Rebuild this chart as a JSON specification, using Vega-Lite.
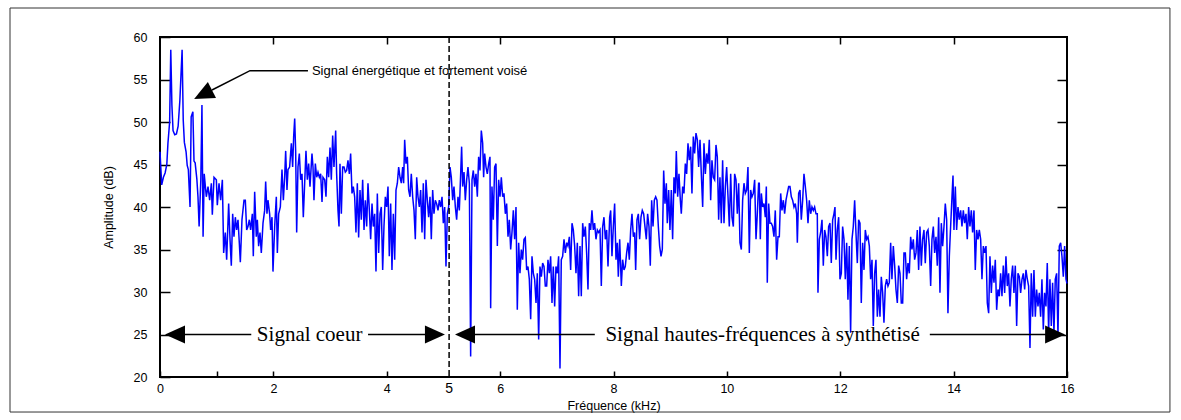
{
  "$schema": "https://vega.github.io/schema/vega-lite/v6.json",
  "width": 907,
  "height": 340,
  "autosize": {"type": "none"},
  "padding": {"left": 160, "top": 37, "right": 114, "bottom": 43},
  "background": "white",
  "config": {"view": {"stroke": "black", "strokeWidth": 2}, "font": "Liberation Sans"},
  "datasets": {
    "sig": [
      {"f":0,"a":46.5},{"f":0.03,"a":42.6},{"f":0.06,"a":43.5},{"f":0.09,"a":44.0},{"f":0.12,"a":45.0},{"f":0.14,"a":47.5},{"f":0.17,"a":50.0},{"f":0.19,"a":58.5},{"f":0.21,"a":52.0},{"f":0.23,"a":49.0},{"f":0.26,"a":48.5},{"f":0.29,"a":48.6},{"f":0.32,"a":49.5},{"f":0.35,"a":52.5},{"f":0.39,"a":58.5},{"f":0.41,"a":50.2},{"f":0.43,"a":47.6},{"f":0.46,"a":46.5},{"f":0.48,"a":44.9},{"f":0.50,"a":44.4},{"f":0.53,"a":40.0},{"f":0.55,"a":50.6},{"f":0.58,"a":51.2},{"f":0.60,"a":45.4},{"f":0.62,"a":45.2},{"f":0.65,"a":43.3},{"f":0.67,"a":41.2},{"f":0.69,"a":37.7},{"f":0.72,"a":43.2},{"f":0.74,"a":52.0},{"f":0.76,"a":36.5},{"f":0.78,"a":43.9},
      {"f":0.817,"a":41.2},{"f":0.847,"a":42.4},{"f":0.876,"a":40.8},{"f":0.906,"a":42.8},{"f":0.923,"a":39.1},{"f":0.953,"a":43.5},{"f":0.994,"a":43.2},{"f":1.011,"a":40.2},{"f":1.041,"a":42.8},{"f":1.070,"a":40.8},{"f":1.100,"a":43.2},{"f":1.123,"a":34.6},{"f":1.152,"a":37.0},{"f":1.176,"a":33.8},{"f":1.211,"a":40.4},{"f":1.235,"a":36.2},{"f":1.258,"a":33.1},{"f":1.282,"a":39.2},{"f":1.305,"a":36.5},{"f":1.329,"a":38.8},{"f":1.352,"a":37.3},{"f":1.376,"a":38.5},{"f":1.399,"a":35.8},{"f":1.417,"a":33.5},{"f":1.446,"a":38.5},{"f":1.482,"a":40.8},{"f":1.505,"a":40.8},{"f":1.529,"a":37.3},{"f":1.552,"a":37.7},{"f":1.576,"a":38.5},{"f":1.599,"a":37.3},{"f":1.629,"a":39.2},{"f":1.646,"a":34.2},{"f":1.670,"a":41.8},{"f":1.699,"a":36.5},{"f":1.717,"a":38.5},{"f":1.740,"a":35.4},{"f":1.764,"a":37.0},{"f":1.787,"a":34.6},{"f":1.817,"a":38.1},{"f":1.846,"a":39.6},{"f":1.864,"a":43.0},{"f":1.887,"a":39.2},{"f":1.905,"a":40.8},{"f":1.934,"a":39.2},{"f":1.952,"a":37.3},{"f":1.976,"a":38.8},{"f":1.993,"a":32.4},{"f":2.023,"a":37.7},{"f":2.052,"a":41.2},{"f":2.070,"a":34.6},{"f":2.093,"a":39.2},{"f":2.123,"a":40.0},{"f":2.152,"a":44.4},{"f":2.176,"a":40.8},{"f":2.199,"a":43.5},{"f":2.217,"a":46.6},{"f":2.240,"a":42.0},{"f":2.258,"a":44.4},{"f":2.287,"a":44.7},{"f":2.317,"a":47.5},{"f":2.340,"a":44.7},{"f":2.358,"a":48.3},{"f":2.376,"a":50.4},{"f":2.393,"a":46.6},{"f":2.411,"a":37.0},{"f":2.434,"a":44.7},{"f":2.458,"a":46.3},{"f":2.481,"a":43.2},{"f":2.505,"a":43.9},{"f":2.528,"a":38.8},{"f":2.552,"a":42.8},{"f":2.575,"a":46.6},{"f":2.599,"a":43.2},{"f":2.622,"a":45.1},{"f":2.646,"a":42.4},
      {"f":2.681,"a":46.3},{"f":2.699,"a":44.7},{"f":2.716,"a":40.8},{"f":2.740,"a":45.1},{"f":2.764,"a":43.5},{"f":2.787,"a":44.1},{"f":2.811,"a":43.5},{"f":2.834,"a":43.9},{"f":2.858,"a":40.6},{"f":2.875,"a":43.5},{"f":2.905,"a":43.2},{"f":2.928,"a":41.2},{"f":2.952,"a":45.9},{"f":2.975,"a":43.5},{"f":2.999,"a":47.0},{"f":3.022,"a":43.2},{"f":3.046,"a":48.4},{"f":3.069,"a":44.7},{"f":3.099,"a":49.0},{"f":3.116,"a":43.9},{"f":3.140,"a":39.6},{"f":3.158,"a":37.7},{"f":3.175,"a":45.1},{"f":3.199,"a":39.2},{"f":3.222,"a":44.7},{"f":3.246,"a":44.7},{"f":3.269,"a":44.1},{"f":3.293,"a":44.3},{"f":3.316,"a":45.5},{"f":3.340,"a":43.9},{"f":3.363,"a":46.3},{"f":3.387,"a":41.6},{"f":3.410,"a":42.4},{"f":3.434,"a":41.2},{"f":3.457,"a":37.0},{"f":3.481,"a":42.8},{"f":3.504,"a":36.4},{"f":3.528,"a":42.0},{"f":3.551,"a":38.5},{"f":3.575,"a":43.2},{"f":3.599,"a":37.3},{"f":3.622,"a":40.8},{"f":3.646,"a":37.7},{"f":3.669,"a":42.8},{"f":3.693,"a":39.6},{"f":3.716,"a":36.2},{"f":3.740,"a":40.4},{"f":3.763,"a":37.7},{"f":3.787,"a":39.2},{"f":3.810,"a":32.4},{"f":3.834,"a":41.6},{"f":3.857,"a":34.6},{"f":3.881,"a":39.2},{"f":3.904,"a":40.0},{"f":3.928,"a":32.6},{"f":3.951,"a":37.7},{"f":3.975,"a":41.2},{"f":3.998,"a":40.0},{"f":4.022,"a":42.4},{"f":4.045,"a":34.2},{"f":4.069,"a":40.4},{"f":4.092,"a":32.6},{"f":4.116,"a":39.2},{"f":4.140,"a":33.8},{"f":4.163,"a":42.0},{"f":4.187,"a":42.8},{"f":4.210,"a":44.7},{"f":4.234,"a":43.5},{"f":4.257,"a":42.8},{"f":4.281,"a":44.7},{"f":4.298,"a":42.8},{"f":4.316,"a":47.9},{"f":4.339,"a":45.1},{"f":4.363,"a":45.9},{"f":4.386,"a":42.0},{"f":4.410,"a":41.2},{"f":4.433,"a":43.9},{"f":4.457,"a":41.2},{"f":4.481,"a":39.6},{"f":4.504,"a":36.2},{"f":4.528,"a":43.5},{"f":4.551,"a":41.2},{"f":4.575,"a":40.0},{"f":4.598,"a":42.0},{"f":4.622,"a":37.0},{"f":4.645,"a":42.8},{"f":4.669,"a":36.2},{"f":4.692,"a":43.2},{"f":4.716,"a":40.8},{"f":4.739,"a":38.8},{"f":4.763,"a":41.2},{"f":4.786,"a":36.2},{"f":4.810,"a":42.0},{"f":4.833,"a":39.2},{"f":4.857,"a":40.8},{"f":4.880,"a":40.4},{"f":4.904,"a":39.6},{"f":4.928,"a":40.8},{"f":4.951,"a":40.0},{"f":4.975,"a":41.2},{"f":4.998,"a":38.1},{"f":5.022,"a":40.0},{"f":5.045,"a":33.0},{"f":5.069,"a":39.2},{"f":5.092,"a":40.0},{"f":5.116,"a":44.7},{"f":5.139,"a":43.5},{"f":5.163,"a":40.8},{"f":5.186,"a":42.4},{"f":5.210,"a":40.0},{"f":5.233,"a":38.5},{"f":5.257,"a":41.2},
      {"f":5.280,"a":39.6},{"f":5.304,"a":43.9},{"f":5.321,"a":47.1},{"f":5.339,"a":42.4},{"f":5.363,"a":44.1},{"f":5.386,"a":40.8},{"f":5.410,"a":43.2},{"f":5.433,"a":44.7},{"f":5.457,"a":42.8},{"f":5.480,"a":22.4},{"f":5.504,"a":43.2},{"f":5.527,"a":44.3},{"f":5.551,"a":42.4},{"f":5.574,"a":43.9},{"f":5.598,"a":41.2},{"f":5.621,"a":45.9},{"f":5.645,"a":44.3},{"f":5.668,"a":49.0},{"f":5.692,"a":47.5},{"f":5.709,"a":43.5},{"f":5.727,"a":46.3},{"f":5.751,"a":44.7},{"f":5.774,"a":43.9},{"f":5.798,"a":45.1},{"f":5.821,"a":45.9},{"f":5.833,"a":28.1},{"f":5.856,"a":42.4},{"f":5.880,"a":38.5},{"f":5.903,"a":44.7},{"f":5.927,"a":45.1},{"f":5.951,"a":35.4},{"f":5.974,"a":43.2},{"f":5.998,"a":41.2},{"f":6.021,"a":43.5},{"f":6.045,"a":41.2},{"f":6.068,"a":41.6},{"f":6.092,"a":39.2},{"f":6.115,"a":40.4},{"f":6.139,"a":36.5},{"f":6.162,"a":38.5},{"f":6.186,"a":35.0},{"f":6.209,"a":37.0},{"f":6.233,"a":39.6},{"f":6.256,"a":36.2},{"f":6.280,"a":40.0},{"f":6.303,"a":27.9},{"f":6.327,"a":35.8},{"f":6.350,"a":32.2},{"f":6.374,"a":35.0},{"f":6.397,"a":33.8},{"f":6.421,"a":36.2},{"f":6.444,"a":36.4},{"f":6.468,"a":32.6},{"f":6.491,"a":33.0},{"f":6.515,"a":31.5},{"f":6.539,"a":26.8},{"f":6.562,"a":34.2},{"f":6.586,"a":32.2},{"f":6.609,"a":31.5},{"f":6.633,"a":28.7},{"f":6.656,"a":32.2},{"f":6.680,"a":24.4},{"f":6.703,"a":33.0},{"f":6.727,"a":31.8},{"f":6.750,"a":33.4},{"f":6.774,"a":33.0},{"f":6.797,"a":30.7},{"f":6.821,"a":30.7},{"f":6.844,"a":33.8},{"f":6.868,"a":32.2},{"f":6.891,"a":34.2},{"f":6.915,"a":28.7},{"f":6.938,"a":33.0},{"f":6.962,"a":28.3},{"f":6.985,"a":33.0},{"f":7.009,"a":32.2},{"f":7.032,"a":34.2},{"f":7.056,"a":21.0},{"f":7.079,"a":33.8},{"f":7.103,"a":34.2},{"f":7.127,"a":36.2},{"f":7.150,"a":34.6},{"f":7.174,"a":35.8},{"f":7.197,"a":35.4},{"f":7.221,"a":36.5},{"f":7.244,"a":32.6},{"f":7.268,"a":38.1},{"f":7.291,"a":37.3},{"f":7.315,"a":35.4},{"f":7.338,"a":32.2},{"f":7.362,"a":35.8},{"f":7.385,"a":29.5},{"f":7.409,"a":35.4},{"f":7.432,"a":29.5},{"f":7.456,"a":38.1},{"f":7.479,"a":36.5},{"f":7.503,"a":37.7},{"f":7.526,"a":34.6},{"f":7.550,"a":30.3},{"f":7.573,"a":38.1},{"f":7.597,"a":37.3},{"f":7.620,"a":39.6},{"f":7.644,"a":37.3},{"f":7.667,"a":38.1},{"f":7.691,"a":36.2},{"f":7.715,"a":37.3},{"f":7.738,"a":37.0},{"f":7.762,"a":37.3},{"f":7.785,"a":30.7},{"f":7.809,"a":37.7},{"f":7.832,"a":38.8},{"f":7.856,"a":36.2},{"f":7.879,"a":37.3},{"f":7.903,"a":33.0},{"f":7.932,"a":38.8},
      {"f":7.950,"a":39.6},{"f":7.973,"a":34.2},{"f":7.997,"a":37.7},{"f":8.020,"a":40.4},{"f":8.044,"a":33.8},{"f":8.067,"a":35.8},{"f":8.085,"a":31.8},{"f":8.109,"a":36.2},{"f":8.138,"a":30.7},{"f":8.161,"a":33.8},{"f":8.185,"a":32.6},{"f":8.208,"a":33.0},{"f":8.232,"a":34.6},{"f":8.256,"a":35.8},{"f":8.279,"a":33.8},{"f":8.303,"a":37.3},{"f":8.326,"a":39.2},{"f":8.350,"a":36.5},{"f":8.373,"a":37.0},{"f":8.391,"a":32.6},{"f":8.414,"a":38.5},{"f":8.438,"a":39.2},{"f":8.461,"a":36.2},{"f":8.485,"a":38.8},{"f":8.508,"a":39.6},{"f":8.532,"a":39.2},{"f":8.555,"a":37.7},{"f":8.579,"a":36.2},{"f":8.602,"a":39.2},{"f":8.626,"a":37.7},{"f":8.649,"a":33.1},{"f":8.673,"a":40.8},{"f":8.697,"a":37.7},{"f":8.720,"a":40.8},{"f":8.744,"a":41.2},{"f":8.767,"a":40.8},{"f":8.791,"a":37.7},{"f":8.814,"a":35.4},{"f":8.838,"a":34.2},{"f":8.861,"a":35.0},{"f":8.885,"a":44.3},{"f":8.908,"a":40.4},{"f":8.932,"a":42.8},{"f":8.949,"a":38.1},{"f":8.973,"a":42.0},{"f":8.996,"a":37.3},{"f":9.020,"a":42.0},{"f":9.043,"a":36.2},{"f":9.067,"a":43.5},{"f":9.090,"a":41.6},{"f":9.108,"a":46.6},{"f":9.132,"a":41.2},{"f":9.155,"a":43.9},{"f":9.179,"a":40.8},{"f":9.196,"a":39.2},{"f":9.220,"a":42.4},{"f":9.243,"a":41.6},{"f":9.267,"a":45.1},{"f":9.290,"a":43.9},{"f":9.314,"a":47.5},{"f":9.337,"a":45.5},{"f":9.361,"a":47.1},{"f":9.384,"a":41.6},{"f":9.408,"a":48.3},{"f":9.431,"a":46.3},{"f":9.455,"a":48.7},{"f":9.479,"a":47.9},{"f":9.502,"a":44.7},{"f":9.526,"a":47.9},{"f":9.549,"a":43.9},{"f":9.573,"a":40.0},{"f":9.596,"a":47.5},{"f":9.620,"a":43.9},{"f":9.643,"a":46.3},{"f":9.667,"a":45.1},{"f":9.690,"a":47.9},{"f":9.714,"a":40.8},{"f":9.737,"a":45.5},{"f":9.761,"a":43.5},{"f":9.784,"a":43.2},{"f":9.808,"a":47.3},{"f":9.831,"a":45.9},{"f":9.855,"a":38.5},{"f":9.878,"a":43.5},{"f":9.902,"a":38.1},{"f":9.925,"a":45.5},{"f":9.949,"a":38.1},{"f":9.973,"a":42.4},{"f":9.996,"a":44.7},{"f":10.020,"a":41.2},{"f":10.043,"a":37.7},{"f":10.067,"a":43.9},{"f":10.090,"a":38.8},{"f":10.114,"a":37.7},{"f":10.137,"a":43.9},{"f":10.161,"a":43.2},{"f":10.184,"a":39.2},{"f":10.208,"a":42.8},{"f":10.231,"a":35.8},{"f":10.255,"a":35.0},{"f":10.278,"a":40.8},{"f":10.302,"a":42.8},{"f":10.325,"a":41.6},{"f":10.349,"a":42.0},{"f":10.372,"a":44.7},{"f":10.396,"a":34.6},{"f":10.419,"a":42.0},{"f":10.443,"a":41.2},{"f":10.466,"a":41.6},{"f":10.490,"a":43.2},{"f":10.514,"a":36.2},{"f":10.537,"a":39.2},{"f":10.560,"a":42.8},
      {"f":10.572,"a":42.8},{"f":10.590,"a":36.2},{"f":10.608,"a":41.6},{"f":10.631,"a":40.0},{"f":10.655,"a":40.4},{"f":10.678,"a":38.8},{"f":10.696,"a":42.4},{"f":10.713,"a":31.1},{"f":10.737,"a":40.4},{"f":10.760,"a":38.1},{"f":10.784,"a":38.1},{"f":10.807,"a":37.7},{"f":10.831,"a":36.5},{"f":10.854,"a":39.6},{"f":10.878,"a":33.8},{"f":10.902,"a":36.5},{"f":10.925,"a":36.5},{"f":10.949,"a":41.6},{"f":10.972,"a":39.6},{"f":10.996,"a":40.8},{"f":11.019,"a":39.2},{"f":11.043,"a":40.8},{"f":11.066,"a":41.6},{"f":11.090,"a":42.4},{"f":11.113,"a":42.4},{"f":11.137,"a":41.2},{"f":11.160,"a":40.8},{"f":11.184,"a":40.0},{"f":11.207,"a":40.4},{"f":11.231,"a":39.2},{"f":11.243,"a":35.8},{"f":11.266,"a":41.6},{"f":11.290,"a":42.0},{"f":11.313,"a":38.5},{"f":11.337,"a":40.8},{"f":11.360,"a":43.9},{"f":11.384,"a":42.4},{"f":11.407,"a":40.8},{"f":11.431,"a":38.1},{"f":11.454,"a":40.8},{"f":11.478,"a":39.2},{"f":11.501,"a":40.0},{"f":11.525,"a":39.6},{"f":11.548,"a":40.0},{"f":11.572,"a":39.2},{"f":11.595,"a":39.2},{"f":11.607,"a":29.9},{"f":11.631,"a":36.2},{"f":11.654,"a":37.0},{"f":11.678,"a":38.5},{"f":11.701,"a":33.1},{"f":11.725,"a":37.3},{"f":11.748,"a":36.5},{"f":11.772,"a":34.2},{"f":11.795,"a":37.7},{"f":11.819,"a":38.1},{"f":11.842,"a":33.4},{"f":11.866,"a":38.5},{"f":11.889,"a":39.2},{"f":11.907,"a":40.0},{"f":11.925,"a":33.8},{"f":11.948,"a":37.3},{"f":11.972,"a":38.8},{"f":11.995,"a":31.5},{"f":12.019,"a":32.2},{"f":12.042,"a":37.7},{"f":12.066,"a":36.2},{"f":12.089,"a":31.5},{"f":12.113,"a":35.8},{"f":12.136,"a":29.1},{"f":12.160,"a":35.4},{"f":12.183,"a":25.2},{"f":12.207,"a":36.2},{"f":12.230,"a":37.7},{"f":12.254,"a":40.8},{"f":12.277,"a":37.0},{"f":12.301,"a":33.4},{"f":12.324,"a":38.5},{"f":12.348,"a":38.1},{"f":12.371,"a":28.7},{"f":12.395,"a":35.8},{"f":12.419,"a":32.6},{"f":12.442,"a":37.3},{"f":12.466,"a":36.2},{"f":12.489,"a":36.5},{"f":12.513,"a":35.4},{"f":12.536,"a":31.5},{"f":12.560,"a":33.8},{"f":12.583,"a":26.0},{"f":12.607,"a":32.2},{"f":12.630,"a":33.8},{"f":12.654,"a":27.1},{"f":12.677,"a":30.3},{"f":12.701,"a":27.1},{"f":12.724,"a":31.8},{"f":12.748,"a":29.9},{"f":12.771,"a":26.4},{"f":12.795,"a":30.7},{"f":12.818,"a":31.5},{"f":12.842,"a":30.7},{"f":12.865,"a":31.1},{"f":12.889,"a":35.8},{"f":12.912,"a":31.5},{"f":12.936,"a":35.4},{"f":12.960,"a":33.1},{"f":12.983,"a":30.3},{"f":13.007,"a":28.7},{"f":13.030,"a":33.1},{"f":13.054,"a":32.2},{"f":13.077,"a":28.7},{"f":13.101,"a":28.7},{"f":13.124,"a":34.6},{"f":13.148,"a":34.6},{"f":13.171,"a":31.5},{"f":13.195,"a":33.4},
      {"f":13.218,"a":32.2},{"f":13.242,"a":36.5},{"f":13.265,"a":35.0},{"f":13.289,"a":36.2},{"f":13.312,"a":33.8},{"f":13.336,"a":34.6},{"f":13.359,"a":37.3},{"f":13.383,"a":32.6},{"f":13.406,"a":37.7},{"f":13.430,"a":33.1},{"f":13.453,"a":36.2},{"f":13.477,"a":37.3},{"f":13.500,"a":33.4},{"f":13.524,"a":37.0},{"f":13.548,"a":37.3},{"f":13.571,"a":35.4},{"f":13.595,"a":30.7},{"f":13.618,"a":36.2},{"f":13.642,"a":37.7},{"f":13.665,"a":34.6},{"f":13.689,"a":36.5},{"f":13.712,"a":33.1},{"f":13.736,"a":38.8},{"f":13.759,"a":29.9},{"f":13.783,"a":38.1},{"f":13.806,"a":35.4},{"f":13.830,"a":37.7},{"f":13.853,"a":40.4},{"f":13.877,"a":38.5},{"f":13.900,"a":27.5},{"f":13.924,"a":34.2},{"f":13.947,"a":37.7},{"f":13.971,"a":41.2},{"f":13.989,"a":43.7},{"f":14.006,"a":37.3},{"f":14.030,"a":42.4},{"f":14.053,"a":37.3},{"f":14.077,"a":40.0},{"f":14.100,"a":38.5},{"f":14.124,"a":39.6},{"f":14.147,"a":37.7},{"f":14.171,"a":39.6},{"f":14.194,"a":38.1},{"f":14.218,"a":39.2},{"f":14.241,"a":36.2},{"f":14.265,"a":40.0},{"f":14.288,"a":37.7},{"f":14.312,"a":39.6},{"f":14.335,"a":37.0},{"f":14.359,"a":39.6},{"f":14.382,"a":32.6},{"f":14.406,"a":37.3},{"f":14.430,"a":36.2},{"f":14.453,"a":37.3},{"f":14.477,"a":36.2},{"f":14.500,"a":31.5},{"f":14.524,"a":35.4},{"f":14.547,"a":34.6},{"f":14.571,"a":35.4},{"f":14.594,"a":28.7},{"f":14.618,"a":27.5},{"f":14.641,"a":34.2},{"f":14.665,"a":29.9},{"f":14.688,"a":33.1},{"f":14.712,"a":31.1},{"f":14.735,"a":33.8},{"f":14.759,"a":27.9},{"f":14.782,"a":30.3},{"f":14.806,"a":29.5},{"f":14.829,"a":32.2},{"f":14.853,"a":29.5},{"f":14.876,"a":33.1},{"f":14.900,"a":29.9},{"f":14.923,"a":34.2},{"f":14.947,"a":30.7},{"f":14.970,"a":32.2},{"f":14.994,"a":28.3},{"f":15.017,"a":31.5},{"f":15.041,"a":33.1},{"f":15.064,"a":29.9},{"f":15.088,"a":33.1},{"f":15.112,"a":26.0},{"f":15.135,"a":32.2},{"f":15.159,"a":31.8},{"f":15.182,"a":29.9},{"f":15.206,"a":31.5},{"f":15.229,"a":32.2},{"f":15.253,"a":30.3},{"f":15.276,"a":32.6},{"f":15.300,"a":31.5},{"f":15.323,"a":30.7},{"f":15.347,"a":23.4},{"f":15.370,"a":32.2},{"f":15.394,"a":27.1},{"f":15.417,"a":32.6},{"f":15.441,"a":27.1},{"f":15.464,"a":30.3},{"f":15.488,"a":28.3},{"f":15.511,"a":29.9},{"f":15.535,"a":27.1},{"f":15.558,"a":31.5},{"f":15.582,"a":25.6},{"f":15.605,"a":29.9},{"f":15.629,"a":28.3},{"f":15.652,"a":33.4},{"f":15.676,"a":25.2},{"f":15.699,"a":31.5},{"f":15.723,"a":26.0},{"f":15.746,"a":31.1},{"f":15.770,"a":25.2},{"f":15.793,"a":31.5},{"f":15.817,"a":32.2},{"f":15.841,"a":24.8},{"f":15.864,"a":35.4},{"f":15.888,"a":35.8},{"f":15.911,"a":34.2},{"f":15.935,"a":31.8},{"f":15.958,"a":35.4},{"f":15.982,"a":31.5},{"f":16.0,"a":31.0}
    ]
  },
  "resolve": {"axis": {"x": "independent", "y": "independent"}},
  "layer": [
    {
      "data": {"values": [{"x1": -2.646, "x2": 17.816, "y1": 63.41, "y2": 15.88}]},
      "mark": {"type": "rect", "filled": false, "stroke": "#333333", "strokeWidth": 1, "clip": false},
      "encoding": {
        "x": {"field": "x1", "type": "quantitative", "scale": {"domain": [0, 16], "nice": false, "zero": false},
              "axis": {"orient": "top", "values": [2, 4, 6, 8, 10, 12, 14], "tickSize": -7, "tickWidth": 1.5, "tickColor": "black", "labels": false, "domain": false, "grid": false, "title": null}},
        "x2": {"field": "x2"},
        "y": {"field": "y1", "type": "quantitative", "scale": {"domain": [20, 60], "nice": false, "zero": false},
              "axis": {"orient": "right", "values": [25, 30, 35, 40, 45, 50, 55], "tickSize": -10, "tickWidth": 1.5, "tickColor": "black", "labels": false, "domain": false, "grid": false, "title": null}},
        "y2": {"field": "y2"}
      }
    },
    {
      "data": {"name": "sig"},
      "mark": {"type": "line", "color": "#0000ff", "strokeWidth": 1.5},
      "encoding": {
        "x": {"field": "f", "type": "quantitative", "scale": {"domain": [0, 16], "nice": false, "zero": false},
              "axis": {"orient": "bottom", "values": [0, 1, 2, 4, 6, 8, 10, 12, 14, 16], "labelExpr": "datum.value == 1 ? '' : datum.label",
                       "tickSize": -6, "tickWidth": 1.5, "tickColor": "black", "domain": false, "grid": false,
                       "labelFont": "Liberation Sans", "labelFontSize": 12.5, "labelColor": "black", "labelPadding": 17, "labelBaseline": "middle", "labelFlush": false, "labelOverlap": false,
                       "title": "Fréquence (kHz)", "titleFont": "Liberation Sans", "titleFontSize": 12.5, "titleFontWeight": "normal", "titleColor": "black",
                       "titleX": 453.5, "titleY": 28, "titleBaseline": "middle", "titleAlign": "center"}},
        "y": {"field": "a", "type": "quantitative", "scale": {"domain": [20, 60], "nice": false, "zero": false},
              "axis": {"orient": "left", "values": [20, 25, 30, 35, 40, 45, 50, 55, 60],
                       "tickSize": -10, "tickWidth": 1.5, "tickColor": "black", "domain": false, "grid": false,
                       "labelFont": "Liberation Sans", "labelFontSize": 12.5, "labelColor": "black", "labelPadding": 23, "labelFlush": false, "labelOverlap": false,
                       "title": "Amplitude (dB)", "titleFont": "Liberation Sans", "titleFontSize": 12.5, "titleFontWeight": "normal", "titleColor": "black",
                       "titleX": -52, "titleY": 170, "titleAngle": 270, "titleBaseline": "middle", "titleAlign": "center"}}
      }
    },
    {
      "data": {"values": [{"f": 5.1}]},
      "mark": {"type": "rule", "color": "black", "strokeWidth": 1.5, "strokeDash": [6, 3]},
      "encoding": {"x": {"field": "f", "type": "quantitative", "scale": {"domain": [0, 16], "nice": false, "zero": false}, "axis": null}}
    },
    {
      "data": {"values": [{"f": 5.1, "a": 18.6, "t": "5"}]},
      "mark": {"type": "text", "font": "Liberation Sans", "fontSize": 14, "color": "black", "align": "center", "baseline": "middle", "clip": false},
      "encoding": {
        "x": {"field": "f", "type": "quantitative", "scale": {"domain": [0, 16], "nice": false, "zero": false}, "axis": null},
        "y": {"field": "a", "type": "quantitative", "scale": {"domain": [20, 60], "nice": false, "zero": false}, "axis": null},
        "text": {"field": "t"}
      }
    },
    {
      "data": {"values": [{"x1": 0.27, "x2": 1.61, "a": 25}, {"x1": 3.67, "x2": 4.85, "a": 25}, {"x1": 5.38, "x2": 7.67, "a": 25}, {"x1": 13.58, "x2": 15.79, "a": 25}]},
      "mark": {"type": "rule", "color": "black", "strokeWidth": 1.5},
      "encoding": {
        "x": {"field": "x1", "type": "quantitative", "scale": {"domain": [0, 16], "nice": false, "zero": false}, "axis": null},
        "x2": {"field": "x2"},
        "y": {"field": "a", "type": "quantitative", "scale": {"domain": [20, 60], "nice": false, "zero": false}, "axis": null}
      }
    },
    {
      "data": {"values": [{"f": 0.265, "a": 25}, {"f": 5.38, "a": 25}]},
      "mark": {"type": "point", "shape": "M -1 0 L 1 -0.9 L 1 0.9 Z", "filled": true, "color": "black", "opacity": 1, "size": 400},
      "encoding": {
        "x": {"field": "f", "type": "quantitative", "scale": {"domain": [0, 16], "nice": false, "zero": false}, "axis": null},
        "y": {"field": "a", "type": "quantitative", "scale": {"domain": [20, 60], "nice": false, "zero": false}, "axis": null}
      }
    },
    {
      "data": {"values": [{"f": 4.85, "a": 25}, {"f": 15.79, "a": 25}]},
      "mark": {"type": "point", "shape": "M 1 0 L -1 -0.9 L -1 0.9 Z", "filled": true, "color": "black", "opacity": 1, "size": 400},
      "encoding": {
        "x": {"field": "f", "type": "quantitative", "scale": {"domain": [0, 16], "nice": false, "zero": false}, "axis": null},
        "y": {"field": "a", "type": "quantitative", "scale": {"domain": [20, 60], "nice": false, "zero": false}, "axis": null}
      }
    },
    {
      "data": {"values": [{"f": 0.759, "a": 53.24}]},
      "mark": {"type": "point", "shape": "M -1 0 L 1 -0.9 L 1 0.9 Z", "filled": true, "color": "black", "opacity": 1, "size": 400, "angle": 333},
      "encoding": {
        "x": {"field": "f", "type": "quantitative", "scale": {"domain": [0, 16], "nice": false, "zero": false}, "axis": null},
        "y": {"field": "a", "type": "quantitative", "scale": {"domain": [20, 60], "nice": false, "zero": false}, "axis": null}
      }
    },
    {
      "data": {"values": [{"f": 0.917, "a": 53.76}, {"f": 1.588, "a": 56.04}, {"f": 2.61, "a": 56.04}]},
      "mark": {"type": "line", "color": "black", "strokeWidth": 1.5},
      "encoding": {
        "x": {"field": "f", "type": "quantitative", "scale": {"domain": [0, 16], "nice": false, "zero": false}, "axis": null},
        "y": {"field": "a", "type": "quantitative", "scale": {"domain": [20, 60], "nice": false, "zero": false}, "axis": null}
      }
    },
    {
      "data": {"values": [{"f": 2.68, "a": 56.04, "t": "Signal énergétique et fortement voisé"}]},
      "mark": {"type": "text", "font": "Liberation Sans", "fontSize": 13, "color": "black", "align": "left", "baseline": "middle"},
      "encoding": {
        "x": {"field": "f", "type": "quantitative", "scale": {"domain": [0, 16], "nice": false, "zero": false}, "axis": null},
        "y": {"field": "a", "type": "quantitative", "scale": {"domain": [20, 60], "nice": false, "zero": false}, "axis": null},
        "text": {"field": "t"}
      }
    },
    {
      "data": {"values": [{"f": 2.64, "a": 25, "t": "Signal coeur"}, {"f": 10.63, "a": 25, "t": "Signal hautes-fréquences à synthétisé"}]},
      "mark": {"type": "text", "font": "Liberation Serif", "fontSize": 21, "color": "black", "align": "center", "baseline": "middle"},
      "encoding": {
        "x": {"field": "f", "type": "quantitative", "scale": {"domain": [0, 16], "nice": false, "zero": false}, "axis": null},
        "y": {"field": "a", "type": "quantitative", "scale": {"domain": [20, 60], "nice": false, "zero": false}, "axis": null},
        "text": {"field": "t"}
      }
    }
  ]
}
